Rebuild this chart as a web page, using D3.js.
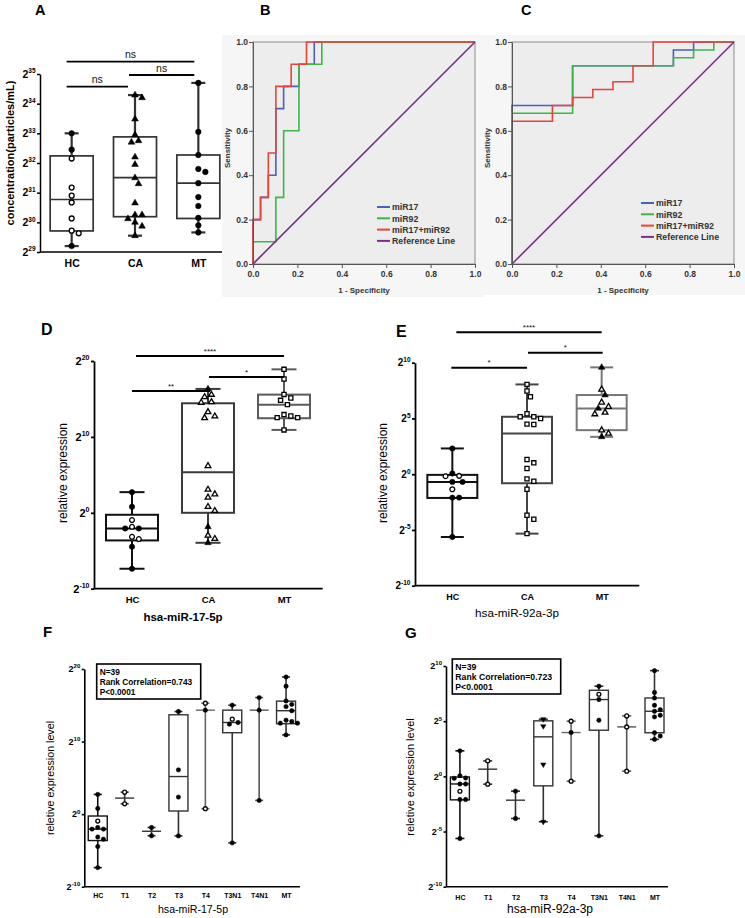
<!DOCTYPE html>
<html><head><meta charset="utf-8">
<script src="https://cdn.jsdelivr.net/npm/d3@7"></script>
<style>body{margin:0;background:#fff}svg{display:block}</style>
</head><body><svg id="chart" width="745" height="918"></svg>
<script>
// ================= DATA (log2 exponents) =================
const cats3 = ["HC", "CA", "MT"];
const cats8 = ["HC", "T1", "T2", "T3", "T4", "T3N1", "T4N1", "MT"];

// Panel A: concentration (particles/mL), log2
const ticksA = [29, 30, 31, 32, 33, 34, 35];
const aHC = [33.0, 32.45, 32.15, 31.17, 30.9, 30.67, 30.13, 29.72, 29.63, 29.2];
const aCA = [34.29, 34.2, 33.48, 32.95, 32.75, 32.7, 32.2, 31.95, 31.5, 31.3, 30.65, 30.25, 30.25, 30.12, 30.0, 29.87, 29.55];
const aMT = [34.7, 33.05, 32.27, 31.8, 31.7, 31.32, 30.85, 30.55, 30.15, 29.9, 29.66];
const aBoxHC = [29.2, 29.71, 30.77, 32.24, 33.0];   // min, q1, median, q3, max
const aBoxCA = [29.55, 30.19, 31.51, 32.88, 34.29];
const aBoxMT = [29.66, 30.13, 31.32, 32.27, 34.7];
const sigA = ["ns", "ns", "ns"];

// ROC panels
const rocTicks = [0, 0.2, 0.4, 0.6, 0.8, 1.0];
const rocNames = ["miR17", "miR92", "miR17+miR92", "Reference Line"];
const refLine = [[0, 0], [1, 1]];
const bMiR17 = [[0,0],[0,0.2],[0.034,0.2],[0.034,0.3],[0.069,0.3],[0.069,0.4],[0.103,0.4],[0.103,0.7],[0.138,0.7],[0.138,0.8],[0.207,0.8],[0.207,0.9],[0.276,0.9],[0.276,1],[1,1]];
const bMiR92 = [[0,0],[0,0.1],[0.103,0.1],[0.103,0.3],[0.138,0.3],[0.138,0.6],[0.207,0.6],[0.207,0.9],[0.310,0.9],[0.310,1],[1,1]];
const bCombo = [[0,0],[0,0.2],[0.034,0.2],[0.034,0.3],[0.069,0.3],[0.069,0.5],[0.103,0.5],[0.103,0.8],[0.172,0.8],[0.172,0.9],[0.241,0.9],[0.241,1],[1,1]];
const cMiR17 = [[0,0],[0,0.714],[0.273,0.714],[0.273,0.893],[0.727,0.893],[0.727,0.964],[0.818,0.964],[0.818,1],[1,1]];
const cMiR92 = [[0,0],[0,0.679],[0.273,0.679],[0.273,0.893],[0.727,0.893],[0.727,0.929],[0.818,0.929],[0.818,0.964],[0.909,0.964],[0.909,1],[1,1]];
const cCombo = [[0,0],[0,0.643],[0.182,0.643],[0.182,0.714],[0.273,0.714],[0.273,0.75],[0.364,0.75],[0.364,0.786],[0.455,0.786],[0.455,0.821],[0.545,0.821],[0.545,0.893],[0.636,0.893],[0.636,1],[1,1]];

// Panel D: hsa-miR-17-5p relative expression, log2
const ticksD = [-10, 0, 10, 20];
const dHC = [2.72, 0.79, -0.96, -1.84, -2.06, -2.06, -3.16, -3.46, -4.47, -7.37];
const dCA = [16.32, 15.57, 15.26, 14.6, 14.52, 13.29, 12.72, 12.5, 6.18, 3.07, 2.46, 2.02, 0.79, 0.26, -1.84, -2.98, -3.42, -3.95];
const dMT = [18.9, 17.63, 15.6, 15.13, 14.82, 14.25, 12.94, 12.76, 12.54, 12.54, 10.92];
const dBoxHC = [-7.37, -3.64, -2.06, -0.26, 2.72];
const dBoxCA = [-3.95, 0, 5.35, 14.43, 16.32];
const dBoxMT = [10.92, 12.46, 14.25, 15.57, 18.9];
const sigD = ["****", "*", "**"];

// Panel E: hsa-miR-92a-3p relative expression, log2
const ticksE = [-10, -5, 0, 5, 10];
const eHC = [2.31, 0.06, -0.15, -0.18, -0.69, -0.69, -1.35, -2.1, -2.1, -5.63];
const eCA = [8.05, 7.46, 6.95, 5.42, 5.15, 5.15, 5.0, 4.49, 4.46, 1.32, 1.02, 0.51, -0.42, -0.63, -1.35, -3.68, -4.04, -5.33];
const eMT = [9.58, 7.6, 7.1, 6.44, 6.05, 5.9, 5.54, 5.39, 3.95, 3.65, 3.35];
const eBoxHC = [-5.63, -2.13, -0.69, -0.06, 2.31];
const eBoxCA = [-5.33, -0.81, 3.65, 5.15, 8.05];
const eBoxMT = [3.35, 3.95, 5.9, 7.1, 9.58];
const sigE = ["****", "*", "*"];

// Panel F: miR-17-5p by stage (null quartiles = group too small for a box)
const fT1 = [3.03, 1.43];
const fT2 = [-1.84, -2.98];
const fT3 = [14.14, 6.1, 2.35, -3.0];
const fT4 = [15.29, 14.33, 0.75];
const fT3N1 = [15.01, 13.09, 12.63, 12.4, -3.96];
const fT4N1 = [16.06, 14.33, 1.89];
const fBoxT1 = [1.43, null, 2.21, null, 3.03];
const fBoxT2 = [-2.98, null, -2.36, null, -1.84];
const fBoxT3 = [-3.0, 0.43, 5.18, 13.69, 14.14];
const fBoxT4 = [0.75, null, 14.33, null, 15.29];
const fBoxT3N1 = [-3.96, 11.22, 12.63, 14.33, 15.01];
const fBoxT4N1 = [1.89, null, 14.33, null, 16.06];
const statsF = ["N=39", "Rank Correlation=0.743", "P<0.0001"];

// Panel G: miR-92a-3p by stage
const gT1 = [1.40, -0.71];
const gT2 = [-1.34, -3.82];
const gT3 = [5.18, 4.54, 1.07, -4.12];
const gT4 = [5.0, 3.97, -0.44];
const gT3N1 = [8.17, 7.44, 6.96, 5.09, -5.39];
const gT4N1 = [5.48, 4.48, 0.47];
const gBoxT1 = [-0.71, null, 0.65, null, 1.40];
const gBoxT2 = [-3.82, null, -2.16, null, -1.34];
const gBoxT3 = [-4.12, -0.86, 3.58, 5.03, 5.18];
const gBoxT4 = [-0.44, null, 3.97, null, 5.0];
const gBoxT3N1 = [-5.39, 4.18, 6.96, 7.8, 8.17];
const gBoxT4N1 = [0.47, null, 4.48, null, 5.48];
const statsG = ["N=39", "Rank Correlation=0.723", "P<0.0001"];

// ================= DRAWING =================
const FONT = "'Liberation Sans', Arial, Helvetica, sans-serif";
const svg = d3.select("#chart").attr("font-family", FONT);

function symbolPath(shape, r) {
  if (shape === "square") return d3.symbol().type(d3.symbolSquare).size((1.75 * r) ** 2)();
  if (shape === "triangle" || shape === "triDown") return d3.symbol().type(d3.symbolTriangle).size(2.5 * r * r)();
  return d3.symbol().type(d3.symbolCircle).size(Math.PI * r * r)();
}

function swarm(vals, y, r) {
  const order = vals.map((v, i) => i).sort((a, b) => vals[b] - vals[a]);
  const placed = [], offs = new Array(vals.length);
  const d = 2 * r + 0.8;
  order.forEach(i => {
    const py = y(vals[i]);
    let off = 0;
    for (let k = 0; k < 30; k++) {
      const cand = k === 0 ? 0 : (k % 2 ? 1 : -1) * Math.ceil(k / 2) * d * 0.55;
      if (placed.every(p => Math.hypot(p.x - cand, p.y - py) >= d)) { off = cand; break; }
    }
    placed.push({ x: off, y: py }); offs[i] = off;
  });
  return offs;
}

function supLabel(g, x, y, base, exp, fs, sfs, anchor, weight) {
  const t = g.append("text").attr("x", x).attr("y", y).attr("text-anchor", anchor)
    .attr("font-size", fs).attr("font-weight", weight || "bold").attr("fill", "#000");
  t.append("tspan").text(base);
  t.append("tspan").attr("font-size", sfs).attr("dy", -fs * 0.42).text(exp);
  return t;
}

function boxPanel(c) {
  const g = svg.append("g");
  const x = d3.scalePoint().domain(c.cats).range([c.ax0, c.ax1]).padding(0.5);
  const y = d3.scaleLinear().domain(c.yDom).range(c.yRange);

  // y axis
  const ya = g.append("g").attr("transform", `translate(${c.ax0},0)`)
    .call(d3.axisLeft(y).tickValues(c.ticks).tickSize(c.tickLen).tickSizeOuter(0).tickFormat(""));
  ya.select(".domain").attr("stroke", "#000").attr("stroke-width", c.axW);
  ya.selectAll(".tick line").attr("stroke", "#000").attr("stroke-width", c.axW);
  c.ticks.forEach(t => supLabel(g, c.ax0 - c.tickLen - 1.5, y(t) + c.tickFs * 0.36, "2", String(t), c.tickFs, c.supFs, "end"));

  // x axis
  const xa = g.append("g").attr("transform", `translate(0,${c.yRange[0]})`)
    .call(d3.axisBottom(x).tickSize(0).tickSizeOuter(0));
  xa.attr("font-family", FONT);
  xa.select(".domain").attr("stroke", "#000").attr("stroke-width", c.axW)
    .attr("d", `M${c.ax0},0H${c.xEnd}`);
  xa.selectAll(".tick text").attr("font-size", c.xFs).attr("font-weight", "bold")
    .attr("y", c.xLabOff).attr("fill", "#000");

  // boxes
  c.groups.forEach(gr => {
    const cx = x(gr.cat);
    const [mn, q1, md, q3, mx] = gr.box;
    const bg = g.append("g").attr("stroke", gr.color).attr("fill", "none");
    if (q1 !== null) {
      bg.append("line").attr("x1", cx).attr("x2", cx).attr("y1", y(q3)).attr("y2", y(mx)).attr("stroke-width", c.whLw);
      bg.append("line").attr("x1", cx).attr("x2", cx).attr("y1", y(q1)).attr("y2", y(mn)).attr("stroke-width", c.whLw);
      bg.append("rect").attr("x", cx - c.boxW / 2).attr("y", y(q3)).attr("width", c.boxW)
        .attr("height", y(q1) - y(q3)).attr("stroke-width", c.boxLw).attr("fill", "none");
    } else {
      bg.append("line").attr("x1", cx).attr("x2", cx).attr("y1", y(mx)).attr("y2", y(mn)).attr("stroke-width", c.whLw);
    }
    bg.append("line").attr("x1", cx - c.boxW / 2).attr("x2", cx + c.boxW / 2)
      .attr("y1", y(md)).attr("y2", y(md)).attr("stroke-width", c.boxLw);
    [mn, mx].forEach(v => bg.append("line").attr("x1", cx - c.capW / 2).attr("x2", cx + c.capW / 2)
      .attr("y1", y(v)).attr("y2", y(v)).attr("stroke-width", c.whLw));

    const offs = swarm(gr.pts, y, c.r);
    gr.pts.forEach((v, i) => {
      const open = gr.open ? gr.open[i] : 0;
      g.append("path").attr("d", symbolPath(gr.shape, open ? c.r * 0.88 : c.r))
        .attr("transform", `translate(${cx + offs[i]},${y(v)})` + (gr.shape === "triDown" ? " rotate(180)" : ""))
        .attr("fill", open ? "#fff" : "#000").attr("stroke", "#000").attr("stroke-width", open ? 1.3 : 0.5);
    });
  });

  // significance bars
  (c.sig || []).forEach(s => {
    const x1 = x(s.a) + s.dx1, x2 = x(s.b) + s.dx2;
    g.append("line").attr("x1", x1).attr("x2", x2).attr("y1", s.y).attr("y2", s.y)
      .attr("stroke", "#000").attr("stroke-width", c.sigLw);
    g.append("text").attr("x", (x1 + x2) / 2).attr("y", s.y - c.sigGap).attr("text-anchor", "middle")
      .attr("font-size", c.sigFs).attr("fill", "#111").text(s.label);
  });

  // titles
  g.append("text").attr("transform", `translate(${c.yt.x},${c.yt.y}) rotate(-90)`).attr("text-anchor", "middle")
    .attr("dy", "0.35em").attr("font-size", c.yt.fs).attr("font-weight", c.yt.w).text(c.yt.text);
  if (c.xt) g.append("text").attr("x", c.xt.x).attr("y", c.xt.y).attr("text-anchor", "middle")
    .attr("dy", "0.35em").attr("font-size", c.xt.fs).attr("font-weight", c.xt.w).text(c.xt.text);

  // stats box
  if (c.stats) {
    const s = c.stats;
    g.append("rect").attr("x", s.x).attr("y", s.y).attr("width", s.w).attr("height", s.h)
      .attr("fill", "#fff").attr("stroke", "#000").attr("stroke-width", 1.6);
    s.lines.forEach((t, i) => g.append("text").attr("x", s.x + 3).attr("y", s.y + 10.5 + i * 10)
      .attr("font-size", s.fs).attr("font-weight", "bold").text(t));
  }
}

const rocColors = ["#4a5fbf", "#3db54a", "#e8443c", "#7c2e8c"];
function rocPanel(c) {
  const g = svg.append("g");
  g.append("rect").attr("x", c.bg[0]).attr("y", c.bg[1]).attr("width", c.bg[2]).attr("height", c.bg[3]).attr("fill", "#f6f6f6");
  const x = d3.scaleLinear().domain([0, 1]).range([c.x0, c.x1]);
  const y = d3.scaleLinear().domain([0, 1]).range([c.yb, c.yt]);
  g.append("rect").attr("x", c.x0).attr("y", c.yt).attr("width", c.x1 - c.x0).attr("height", c.yb - c.yt)
    .attr("fill", "#ededed").attr("stroke", "#8c8c8c").attr("stroke-width", 1);
  const line = d3.line().x(d => x(d[0])).y(d => y(d[1]));
  c.series.forEach((s, i) => g.append("path").attr("d", line(s)).attr("fill", "none")
    .attr("stroke", rocColors[i]).attr("stroke-width", 1.6));
  const fmt = d3.format(".1f");
  const ya = g.append("g").attr("transform", `translate(${c.x0},0)`)
    .call(d3.axisLeft(y).tickValues(rocTicks).tickFormat(fmt).tickSize(4).tickSizeOuter(0));
  const xa = g.append("g").attr("transform", `translate(0,${c.yb})`)
    .call(d3.axisBottom(x).tickValues(rocTicks).tickFormat(fmt).tickSize(4).tickSizeOuter(0));
  [ya, xa].forEach(a => {
    a.attr("font-family", FONT).attr("font-size", 8.5).attr("font-weight", "bold");
    a.select(".domain").attr("stroke", "#555");
    a.selectAll(".tick line").attr("stroke", "#555");
    a.selectAll("text").attr("fill", "#333");
  });
  ya.selectAll("text").attr("x", -5);
  g.append("text").attr("x", (c.x0 + c.x1) / 2).attr("y", c.yb + 29).attr("text-anchor", "middle")
    .attr("font-size", 8).attr("font-weight", "bold").attr("fill", "#333").text("1 - Specificity");
  g.append("text").attr("transform", `translate(${c.sensX},${(c.yt + c.yb) / 2 - 5}) rotate(-90)`)
    .attr("text-anchor", "middle").attr("dy", "0.35em").attr("font-size", 8).attr("font-weight", "bold")
    .attr("fill", "#333").text("Sensitivity");
  rocNames.forEach((n, i) => {
    const ly = c.legY + i * 11.3;
    g.append("line").attr("x1", c.legX).attr("x2", c.legX + 13).attr("y1", ly).attr("y2", ly)
      .attr("stroke", rocColors[i]).attr("stroke-width", 2);
    g.append("text").attr("x", c.legX + 15).attr("y", ly + 3.2).attr("font-size", 8.8)
      .attr("font-weight", "bold").attr("fill", "#333").text(n);
  });
}

// panel letters
[["A", 35, 15, 14.5], ["B", 260, 15, 14.5], ["C", 521, 15, 14.5], ["D", 41, 335, 16],
 ["E", 396, 337, 16], ["F", 43, 637, 15], ["G", 405, 638, 15]].forEach(([t, x, y, fs]) =>
  svg.append("text").attr("x", x).attr("y", y).attr("font-size", fs).attr("font-weight", "bold").text(t));

// Panel A
boxPanel({
  cats: cats3, ax0: 40, ax1: 230, xEnd: 233, yDom: [29, 35], yRange: [252, 74], ticks: ticksA,
  tickLen: 3, tickFs: 10.5, supFs: 6.5, axW: 1.5, xFs: 10.5, xLabOff: 7.8,
  boxW: 43, capW: 14, boxLw: 1.7, whLw: 2.2, r: 2.8,
  groups: [
    { cat: "HC", pts: aHC, box: aBoxHC, color: "#333", shape: "circle", open: [0,0,1,1,1,1,1,1,1,0] },
    { cat: "CA", pts: aCA, box: aBoxCA, color: "#333", shape: "triangle" },
    { cat: "MT", pts: aMT, box: aBoxMT, color: "#333", shape: "circle" }
  ],
  sig: [
    { a: "HC", b: "MT", y: 61.7, label: sigA[0], dx1: -5, dx2: -4 },
    { a: "CA", b: "MT", y: 75, label: sigA[1], dx1: -6, dx2: -4 },
    { a: "HC", b: "CA", y: 86.7, label: sigA[2], dx1: -5, dx2: -7 }
  ], sigLw: 1.8, sigGap: 3.5, sigFs: 10.5,
  yt: { text: "concentration(particles/mL)", x: 10, y: 153, fs: 11, w: "bold" }
});

// Panels B, C
rocPanel({ bg: [222, 35, 262, 262], x0: 253, x1: 475, yt: 42, yb: 264, series: [bMiR17, bMiR92, bCombo, refLine],
  legX: 377, legY: 207, sensX: 227 });
rocPanel({ bg: [484, 35, 261, 260], x0: 512, x1: 734, yt: 42, yb: 264, series: [cMiR17, cMiR92, cCombo, refLine],
  legX: 641, legY: 203, sensX: 487 });

// Panel D
boxPanel({
  cats: cats3, ax0: 94, ax1: 322, xEnd: 322.7, yDom: [-10, 20], yRange: [588.7, 361], ticks: ticksD,
  tickLen: 3, tickFs: 11, supFs: 7, axW: 1.8, xFs: 9.5, xLabOff: 8,
  boxW: 52, capW: 25, boxLw: 2, whLw: 2, r: 2.7,
  groups: [
    { cat: "HC", pts: dHC, box: dBoxHC, color: "#111", shape: "circle", open: [0,0,1,1,0,0,1,1,0,0] },
    { cat: "CA", pts: dCA, box: dBoxCA, color: "#3a3a3a", shape: "triangle", open: [0,1,1,1,1,1,1,1,1,1,1,1,1,1,0,1,1,0] },
    { cat: "MT", pts: dMT, box: dBoxMT, color: "#5a5a5a", shape: "square", open: dMT.map(() => 1) }
  ],
  sig: [
    { a: "HC", b: "MT", y: 356, label: sigD[0], dx1: 4, dx2: 0 },
    { a: "CA", b: "MT", y: 377, label: sigD[1], dx1: 1, dx2: 0 },
    { a: "HC", b: "CA", y: 391, label: sigD[2], dx1: 0, dx2: 2 }
  ], sigLw: 2, sigGap: 2.5, sigFs: 8,
  yt: { text: "relative expression", x: 63, y: 473, fs: 12, w: "normal" },
  xt: { text: "hsa-miR-17-5p", x: 183, y: 617, fs: 11.5, w: "bold" }
});

// Panel E
boxPanel({
  cats: cats3, ax0: 415, ax1: 639, xEnd: 639.3, yDom: [-10, 10], yRange: [585.7, 362.7], ticks: ticksE,
  tickLen: 3, tickFs: 10, supFs: 6.5, axW: 1.8, xFs: 9, xLabOff: 7.8,
  boxW: 50, capW: 23, boxLw: 2, whLw: 2, r: 2.7,
  groups: [
    { cat: "HC", pts: eHC, box: eBoxHC, color: "#111", shape: "circle", open: [0,0,1,1,0,0,1,0,0,0] },
    { cat: "CA", pts: eCA, box: eBoxCA, color: "#444", shape: "square", open: eCA.map(() => 1) },
    { cat: "MT", pts: eMT, box: eBoxMT, color: "#777", shape: "triangle", open: [0,1,0,1,1,0,1,1,1,1,0] }
  ],
  sig: [
    { a: "HC", b: "MT", y: 332.3, label: sigE[0], dx1: 4, dx2: 0 },
    { a: "CA", b: "MT", y: 352.7, label: sigE[1], dx1: 1, dx2: 1 },
    { a: "HC", b: "CA", y: 367.7, label: sigE[2], dx1: -1, dx2: 0 }
  ], sigLw: 2, sigGap: 2.5, sigFs: 8,
  yt: { text: "relative expression", x: 383, y: 473, fs: 12, w: "normal" },
  xt: { text: "hsa-miR-92a-3p", x: 517, y: 613, fs: 11.7, w: "normal" }
});

// Panel F
boxPanel({
  cats: cats8, ax0: 84.3, ax1: 299.5, xEnd: 300, yDom: [-10, 20], yRange: [886.7, 669], ticks: ticksD,
  tickLen: 2.5, tickFs: 9, supFs: 6, axW: 1.6, xFs: 7, xLabOff: 6.8,
  boxW: 19, capW: 8, boxLw: 1.4, whLw: 1.6, r: 2.2,
  groups: [
    { cat: "HC", pts: dHC, box: dBoxHC, color: "#111", shape: "circle", open: [0,0,1,0,0,0,0,0,0,0] },
    { cat: "T1", pts: fT1, box: fBoxT1, color: "#333", shape: "circle", open: [1,1] },
    { cat: "T2", pts: fT2, box: fBoxT2, color: "#333", shape: "circle" },
    { cat: "T3", pts: fT3, box: fBoxT3, color: "#333", shape: "circle" },
    { cat: "T4", pts: fT4, box: fBoxT4, color: "#666", shape: "circle", open: [1,0,1] },
    { cat: "T3N1", pts: fT3N1, box: fBoxT3N1, color: "#333", shape: "circle", open: [0,1,0,0,0] },
    { cat: "T4N1", pts: fT4N1, box: fBoxT4N1, color: "#555", shape: "circle" },
    { cat: "MT", pts: dMT, box: dBoxMT, color: "#333", shape: "circle" }
  ],
  yt: { text: "reletive expression level", x: 50, y: 778, fs: 10.7, w: "normal" },
  xt: { text: "hsa-miR-17-5p", x: 193, y: 909.5, fs: 10.6, w: "normal" },
  stats: { x: 96.7, y: 664, w: 104, h: 35, fs: 8.3, lines: statsF }
});

// Panel G
boxPanel({
  cats: cats8, ax0: 446, ax1: 668.4, xEnd: 668, yDom: [-10, 10], yRange: [886.7, 666], ticks: ticksE,
  tickLen: 2.5, tickFs: 9, supFs: 6, axW: 1.6, xFs: 7, xLabOff: 8.5,
  boxW: 19, capW: 9, boxLw: 1.4, whLw: 1.6, r: 2.2,
  groups: [
    { cat: "HC", pts: eHC, box: eBoxHC, color: "#111", shape: "circle", open: [0,0,0,0,0,0,1,0,0,0] },
    { cat: "T1", pts: gT1, box: gBoxT1, color: "#333", shape: "circle", open: [1,1] },
    { cat: "T2", pts: gT2, box: gBoxT2, color: "#333", shape: "circle" },
    { cat: "T3", pts: gT3, box: gBoxT3, color: "#333", shape: "triDown" },
    { cat: "T4", pts: gT4, box: gBoxT4, color: "#666", shape: "circle", open: [1,0,1] },
    { cat: "T3N1", pts: gT3N1, box: gBoxT3N1, color: "#333", shape: "circle", open: [0,1,0,0,0] },
    { cat: "T4N1", pts: gT4N1, box: gBoxT4N1, color: "#555", shape: "circle", open: [1,1,1] },
    { cat: "MT", pts: eMT, box: eBoxMT, color: "#333", shape: "circle" }
  ],
  yt: { text: "reletive expression level", x: 410, y: 777, fs: 11, w: "normal" },
  xt: { text: "hsa-miR-92a-3p", x: 550, y: 909, fs: 12, w: "normal" },
  stats: { x: 452.3, y: 659, w: 108.4, h: 35, fs: 8.7, lines: statsG }
});
</script></body></html>
